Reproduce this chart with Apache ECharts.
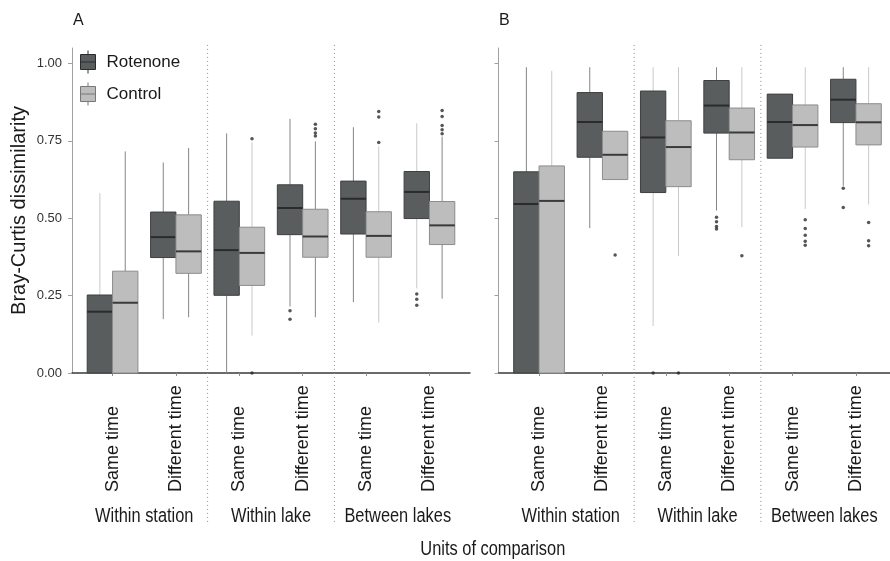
<!DOCTYPE html>
<html>
<head>
<meta charset="utf-8">
<script src="https://cdn.jsdelivr.net/npm/echarts@6/dist/echarts.min.js"></script>
<style>html,body{margin:0;padding:0;background:#fff}#c{width:890px;height:561px}</style>
</head>
<body>
<div id="c"></div>
<script>
// ---- data ----
const timeLabels = ['Same time', 'Different time', 'Same time', 'Different time', 'Same time', 'Different time'];
const groupLabels = ['Within station', 'Within lake', 'Between lakes'];
const groupCenters = [1.5, 3.5, 5.5];
const seriesNames = ['Rotenone', 'Control'];
const yTicks = [0, 0.25, 0.5, 0.75, 1.0];

// [category (1..6), lower whisker, Q1, median, Q3, upper whisker]
const boxA_Rotenone = [
  [1, 0.000, 0.000, 0.198, 0.252, 0.581],
  [2, 0.174, 0.373, 0.439, 0.520, 0.680],
  [3, 0.000, 0.251, 0.397, 0.555, 0.774],
  [4, 0.215, 0.447, 0.533, 0.608, 0.821],
  [5, 0.229, 0.449, 0.563, 0.620, 0.794],
  [6, 0.273, 0.499, 0.585, 0.651, 0.807]
];
const boxA_Control = [
  [1, 0.000, 0.000, 0.227, 0.329, 0.716],
  [2, 0.180, 0.322, 0.393, 0.511, 0.727],
  [3, 0.121, 0.283, 0.388, 0.471, 0.745],
  [4, 0.180, 0.374, 0.441, 0.529, 0.748],
  [5, 0.163, 0.374, 0.443, 0.521, 0.732],
  [6, 0.240, 0.415, 0.477, 0.554, 0.764]
];
const boxB_Rotenone = [
  [1, 0.000, 0.000, 0.546, 0.650, 0.988],
  [2, 0.468, 0.697, 0.811, 0.906, 0.988],
  [3, 0.152, 0.583, 0.761, 0.911, 0.988],
  [4, 0.525, 0.775, 0.864, 0.945, 0.988],
  [5, 0.694, 0.694, 0.811, 0.901, 0.901],
  [6, 0.605, 0.809, 0.883, 0.949, 0.988]
];
const boxB_Control = [
  [1, 0.000, 0.000, 0.556, 0.669, 0.976],
  [2, 0.625, 0.625, 0.705, 0.781, 0.781],
  [3, 0.378, 0.602, 0.730, 0.815, 0.988],
  [4, 0.471, 0.689, 0.777, 0.856, 0.988],
  [5, 0.530, 0.730, 0.801, 0.866, 0.988],
  [6, 0.545, 0.737, 0.810, 0.870, 0.988]
];
// outliers: [category, value]
const outA_Rotenone = [[4, 0.201], [4, 0.174], [6, 0.255], [6, 0.238], [6, 0.219]];
const outA_Control = [[3, 0.757], [3, 0.000], [4, 0.804], [4, 0.789], [4, 0.775], [4, 0.766],
  [5, 0.845], [5, 0.827], [5, 0.745], [6, 0.848], [6, 0.829], [6, 0.800], [6, 0.786], [6, 0.773]];
const outB_Rotenone = [[3, 0.000], [4, 0.503], [4, 0.489], [4, 0.473], [4, 0.465], [6, 0.597], [6, 0.535]];
const outB_Control = [[2, 0.381], [3, 0.000], [4, 0.379], [5, 0.495], [5, 0.467], [5, 0.445], [5, 0.426], [5, 0.413],
  [6, 0.486], [6, 0.427], [6, 0.411]];
const separators = [[2.5], [4.5]];

// ---- style ----
const ROT = { fill: '#595d5e', stroke: '#3e4040', med: '#2a2c2c' };
const CTL = { fill: '#bdbdbd', stroke: '#8c8c8c', med: '#3a3a3a' };
const WHISK = '#858585', WHISK_LIGHT = '#c9c9c9';
// categories whose whiskers render faint in the original (style only)
const faintWhiskers = { A0: [1, 6], A1: [3, 5], B0: [3], B1: [1, 3, 4, 5, 6] };
const DODGE = 0.2, BOX_W = 0.4;
const XMIN = 0.36, XMAX = 6.64;
const SANS = "'Liberation Sans', Arial, sans-serif";
const NARROW_SCALE = 0.82;
const ICON = 'path://M7.5,0L7.5,4M0,4L15,4L15,19L0,19ZM0,11.5L15,11.5M7.5,19L7.5,23';

function boxRender(offset, c, faint) {
  return function (params, api) {
    const cat = api.value(0);
    const x = cat + offset;
    const lo = api.coord([x, api.value(1)]);
    const q1 = api.coord([x, api.value(2)]);
    const md = api.coord([x, api.value(3)]);
    const q3 = api.coord([x, api.value(4)]);
    const hi = api.coord([x, api.value(5)]);
    const w = api.size([BOX_W, 0])[0];
    const cx = q1[0];
    const wc = faint.indexOf(cat) >= 0 ? WHISK_LIGHT : WHISK;
    return {
      type: 'group', children: [
        { type: 'line', shape: { x1: cx, y1: hi[1], x2: cx, y2: q3[1] }, style: { stroke: wc, lineWidth: 1 } },
        { type: 'line', shape: { x1: cx, y1: q1[1], x2: cx, y2: lo[1] }, style: { stroke: wc, lineWidth: 1 } },
        { type: 'rect', shape: { x: cx - w / 2, y: q3[1], width: w, height: q1[1] - q3[1] }, style: { fill: c.fill, stroke: c.stroke, lineWidth: 1 } },
        { type: 'line', shape: { x1: cx - w / 2, y1: md[1], x2: cx + w / 2, y2: md[1] }, style: { stroke: c.med, lineWidth: 2 } }
      ]
    };
  };
}
function sepRender(params, api) {
  const x = api.value(0);
  const t = api.coord([x, 1.06]);
  const b = api.coord([x, -0.49]);
  return { type: 'line', shape: { x1: t[0], y1: t[1], x2: b[0], y2: b[1] }, style: { stroke: '#8a8a8a', lineWidth: 1, lineDash: [1, 3] } };
}
function shift(arr, off) { return arr.map(d => [d[0] + off, d[1]]); }

function xAxis(gridIndex) {
  return {
    type: 'value', gridIndex, min: XMIN, max: XMAX, splitLine: { show: false },
    axisLine: { show: true, onZero: false, lineStyle: { color: '#3a3a3a', width: 1.5 } },
    axisTick: { show: true, length: 3, lineStyle: { color: '#8a8a8a' }, customValues: [1, 2, 3, 4, 5, 6] },
    axisLabel: {
      customValues: [1, 2, 3, 4, 5, 6], rotate: 90, align: 'left', verticalAlign: 'middle', margin: 119,
      fontSize: 18, fontFamily: SANS, color: '#1a1a1a',
      formatter: v => timeLabels[Math.round(v) - 1]
    }
  };
}
function yAxis(gridIndex, showLabels) {
  return {
    type: 'value', gridIndex, min: 0, max: 1.05, splitLine: { show: false },
    axisLine: { show: true, lineStyle: { color: '#a0a0a0', width: 1 } },
    axisTick: { show: true, length: 4, lineStyle: { color: '#a0a0a0' }, customValues: yTicks },
    axisLabel: { show: showLabels, customValues: yTicks, formatter: v => v.toFixed(2), fontSize: 13, color: '#333', fontFamily: SANS, margin: 10 },
    name: showLabels ? 'Bray-Curtis dissimilarity' : '', nameLocation: 'middle', nameGap: 43,
    nameTextStyle: { fontSize: 20, color: '#1a1a1a', fontFamily: SANS }
  };
}

const chart = echarts.init(document.getElementById('c'), null, { renderer: 'canvas' });
const series = [];
[[0, 'A', boxA_Rotenone, boxA_Control, outA_Rotenone, outA_Control], [1, 'B', boxB_Rotenone, boxB_Control, outB_Rotenone, outB_Control]].forEach(p => {
  const g = p[0], k = p[1];
  series.push({ type: 'custom', name: 'sep' + g, xAxisIndex: g, yAxisIndex: g, data: separators, renderItem: sepRender, clip: false, silent: true, z: 1, encode: { x: 0 } });
  series.push({ type: 'custom', name: seriesNames[0], xAxisIndex: g, yAxisIndex: g, data: p[2], renderItem: boxRender(-DODGE, ROT, faintWhiskers[k + '0']), encode: { x: 0, y: [1, 2, 3, 4, 5] }, itemStyle: { color: ROT.fill }, z: 2 });
  series.push({ type: 'custom', name: seriesNames[1], xAxisIndex: g, yAxisIndex: g, data: p[3], renderItem: boxRender(DODGE, CTL, faintWhiskers[k + '1']), encode: { x: 0, y: [1, 2, 3, 4, 5] }, itemStyle: { color: CTL.fill }, z: 2 });
  series.push({ type: 'scatter', name: 'outR' + g, xAxisIndex: g, yAxisIndex: g, data: shift(p[4], -DODGE), symbol: 'circle', symbolSize: 3.5, itemStyle: { color: '#2b2b2b' }, z: 3, silent: true });
  series.push({ type: 'scatter', name: 'outC' + g, xAxisIndex: g, yAxisIndex: g, data: shift(p[5], DODGE), symbol: 'circle', symbolSize: 3.5, itemStyle: { color: '#2b2b2b' }, z: 3, silent: true });
});

chart.setOption({
  animation: false,
  backgroundColor: '#fff',
  title: [
    { text: 'A', left: 68, top: 8, textStyle: { fontSize: 16, fontWeight: 'normal', color: '#1a1a1a', fontFamily: SANS } },
    { text: 'B', left: 494, top: 8, textStyle: { fontSize: 16, fontWeight: 'normal', color: '#1a1a1a', fontFamily: SANS } }
  ],
  legend: {
    left: 80, top: 50, orient: 'vertical', itemWidth: 15, itemHeight: 23, itemGap: 8, selectedMode: false, padding: 0,
    textStyle: { fontSize: 17, color: '#1a1a1a', fontFamily: SANS, padding: [0, 0, 0, 6] },
    data: [
      { name: 'Rotenone', icon: ICON, itemStyle: { color: ROT.fill, borderColor: ROT.med, borderWidth: 1 } },
      { name: 'Control', icon: ICON, itemStyle: { color: CTL.fill, borderColor: '#777', borderWidth: 1 } }
    ]
  },
  grid: [
    { left: 72, top: 48, width: 398, height: 325, containLabel: false, outerBoundsMode: 'none' },
    { left: 498.5, top: 48, width: 398, height: 325, containLabel: false, outerBoundsMode: 'none' }
  ],
  xAxis: [xAxis(0), xAxis(1)],
  yAxis: [yAxis(0, true), yAxis(1, false)],
  series
});

// Condensed (narrow) group labels and axis title, placed through the axes' scales
const narrowText = (text, x, y) => ({
  type: 'text', x, y, scaleX: NARROW_SCALE, silent: true,
  style: { text, fontSize: 20, fontFamily: SANS, fill: '#1a1a1a', textAlign: 'center', textVerticalAlign: 'middle' }
});
const labels = [];
[0, 1].forEach(g => {
  groupCenters.forEach((c, i) => {
    const px = chart.convertToPixel({ xAxisIndex: g }, c);
    const py = chart.convertToPixel({ yAxisIndex: g }, -0.462);
    labels.push(narrowText(groupLabels[i], px, py));
  });
});
const titleX = chart.convertToPixel({ xAxisIndex: 0 }, 7.0);
labels.push(narrowText('Units of comparison', titleX, chart.convertToPixel({ yAxisIndex: 0 }, -0.57)));
chart.setOption({ graphic: labels });
</script>
</body>
</html>
